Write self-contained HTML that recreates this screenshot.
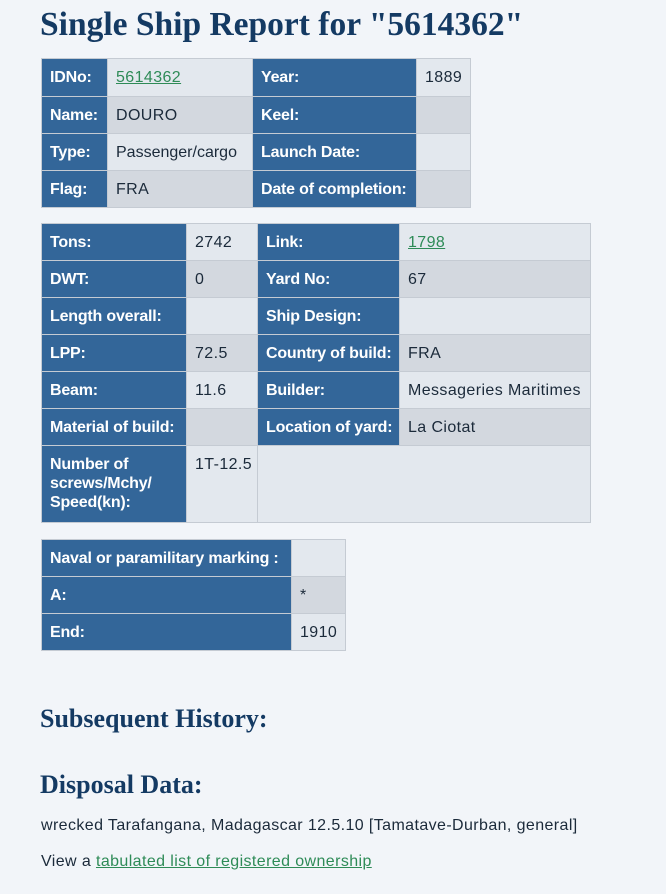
<!DOCTYPE html>
<html><head><meta charset="utf-8"><style>
body{margin:0;width:666px;height:894px;background:#f2f5f9;font-family:"Liberation Sans","DejaVu Sans",sans-serif;position:relative;overflow:hidden;color:#1b2a3a}
.c{position:absolute;box-sizing:border-box;border:1px solid #c5cbd3;font-size:16px;padding:9px 8px;line-height:19px;letter-spacing:0.4px;white-space:nowrap}
.h{background:#336699;color:#fff;font-weight:bold;letter-spacing:-0.2px;border-color:#c5cbd3}
.l{background:#e3e8ee}
.d{background:#d3d8df}
a{color:#2e8b57;text-decoration:underline}
h1,h2{position:absolute;margin:0;font-family:"Liberation Serif","DejaVu Serif",serif;color:#143a63;font-weight:bold}
p{position:absolute;margin:0;left:41px;font-size:16px;letter-spacing:0.4px}
</style></head><body>
<h1 style="left:40px;top:3px;font-size:33.5px;line-height:44px">Single Ship Report for "5614362"</h1>

<div class="c h" style="left:41px;top:58px;width:67px;height:39px">IDNo:</div>
<div class="c l" style="left:107px;top:58px;width:146px;height:39px"><a>5614362</a></div>
<div class="c h" style="left:252px;top:58px;width:165px;height:39px">Year:</div>
<div class="c l" style="left:416px;top:58px;width:55px;height:39px">1889</div>
<div class="c h" style="left:41px;top:96px;width:67px;height:38px">Name:</div>
<div class="c d" style="left:107px;top:96px;width:146px;height:38px">DOURO</div>
<div class="c h" style="left:252px;top:96px;width:165px;height:38px">Keel:</div>
<div class="c d" style="left:416px;top:96px;width:55px;height:38px"></div>
<div class="c h" style="left:41px;top:133px;width:67px;height:38px">Type:</div>
<div class="c l" style="left:107px;top:133px;width:146px;height:38px;letter-spacing:0">Passenger/cargo</div>
<div class="c h" style="left:252px;top:133px;width:165px;height:38px">Launch Date:</div>
<div class="c l" style="left:416px;top:133px;width:55px;height:38px"></div>
<div class="c h" style="left:41px;top:170px;width:67px;height:38px">Flag:</div>
<div class="c d" style="left:107px;top:170px;width:146px;height:38px">FRA</div>
<div class="c h" style="left:252px;top:170px;width:165px;height:38px">Date of completion:</div>
<div class="c d" style="left:416px;top:170px;width:55px;height:38px"></div>

<div class="c h" style="left:41px;top:223px;width:146px;height:38px">Tons:</div>
<div class="c l" style="left:186px;top:223px;width:72px;height:38px">2742</div>
<div class="c h" style="left:257px;top:223px;width:143px;height:38px">Link:</div>
<div class="c l" style="left:399px;top:223px;width:192px;height:38px"><a>1798</a></div>
<div class="c h" style="left:41px;top:260px;width:146px;height:38px">DWT:</div>
<div class="c d" style="left:186px;top:260px;width:72px;height:38px">0</div>
<div class="c h" style="left:257px;top:260px;width:143px;height:38px">Yard No:</div>
<div class="c d" style="left:399px;top:260px;width:192px;height:38px">67</div>
<div class="c h" style="left:41px;top:297px;width:146px;height:38px">Length overall:</div>
<div class="c l" style="left:186px;top:297px;width:72px;height:38px"></div>
<div class="c h" style="left:257px;top:297px;width:143px;height:38px">Ship Design:</div>
<div class="c l" style="left:399px;top:297px;width:192px;height:38px"></div>
<div class="c h" style="left:41px;top:334px;width:146px;height:38px">LPP:</div>
<div class="c d" style="left:186px;top:334px;width:72px;height:38px">72.5</div>
<div class="c h" style="left:257px;top:334px;width:143px;height:38px">Country of build:</div>
<div class="c d" style="left:399px;top:334px;width:192px;height:38px">FRA</div>
<div class="c h" style="left:41px;top:371px;width:146px;height:38px">Beam:</div>
<div class="c l" style="left:186px;top:371px;width:72px;height:38px">11.6</div>
<div class="c h" style="left:257px;top:371px;width:143px;height:38px">Builder:</div>
<div class="c l" style="left:399px;top:371px;width:192px;height:38px">Messageries Maritimes</div>
<div class="c h" style="left:41px;top:408px;width:146px;height:38px">Material of build:</div>
<div class="c d" style="left:186px;top:408px;width:72px;height:38px"></div>
<div class="c h" style="left:257px;top:408px;width:143px;height:38px">Location of yard:</div>
<div class="c d" style="left:399px;top:408px;width:192px;height:38px">La Ciotat</div>
<div class="c h" style="left:41px;top:445px;width:146px;height:78px;white-space:normal">Number of screws/Mchy/ Speed(kn):</div>
<div class="c l" style="left:186px;top:445px;width:72px;height:78px">1T-12.5</div>
<div class="c l" style="left:257px;top:445px;width:334px;height:78px"></div>

<div class="c h" style="left:41px;top:539px;width:251px;height:38px">Naval or paramilitary marking :</div>
<div class="c l" style="left:291px;top:539px;width:55px;height:38px"></div>
<div class="c h" style="left:41px;top:576px;width:251px;height:38px">A:</div>
<div class="c d" style="left:291px;top:576px;width:55px;height:38px">*</div>
<div class="c h" style="left:41px;top:613px;width:251px;height:38px">End:</div>
<div class="c l" style="left:291px;top:613px;width:55px;height:38px">1910</div>

<h2 style="left:40px;top:703px;font-size:26px;line-height:32px">Subsequent History:</h2>
<h2 style="left:40px;top:769px;font-size:26px;line-height:32px">Disposal Data:</h2>
<p style="top:817px">wrecked Tarafangana, Madagascar 12.5.10 [Tamatave-Durban, general]</p>
<p style="top:853px">View a <a>tabulated list of registered ownership</a></p>
</body></html>
